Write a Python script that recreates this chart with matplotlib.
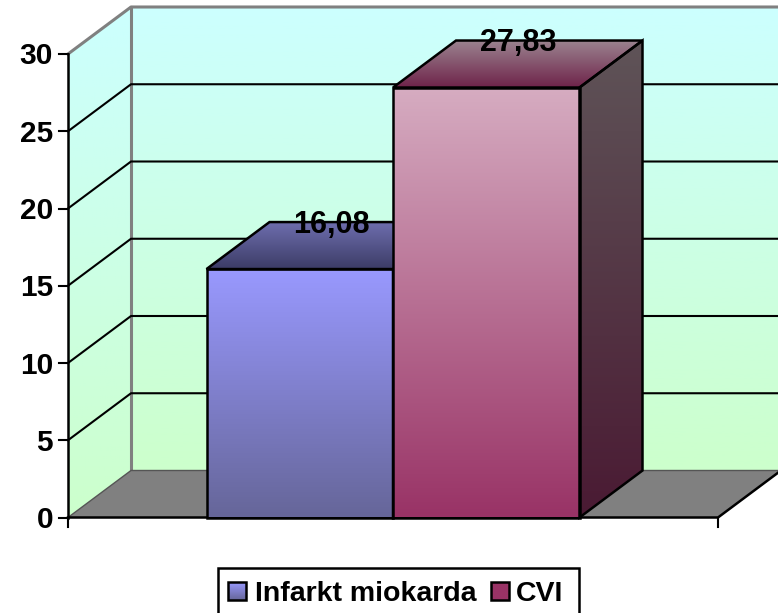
import numpy as np
import matplotlib
matplotlib.use('Agg')
import matplotlib.pyplot as plt
from matplotlib.colors import LinearSegmentedColormap
from matplotlib.patches import Polygon

plt.rcParams['font.family'] = ['Liberation Sans', 'DejaVu Sans']
plt.rcParams['font.weight'] = 'bold'

# data
categories = ['Infarkt miokarda', 'CVI']
values = [16.08, 27.83]
value_labels = ['16,08', '27,83']
y_ticks = [0, 5, 10, 15, 20, 25, 30]

# pixel scale of the picture: 0 at y=517.5, 30 at y=54, category runs 68..718
W, H = 778, 613
x_unit = 650.0
y_unit = (517.5 - 54) / 30
x_min = -68 / x_unit
x_max = (W - 68) / x_unit
y_min = -(H - 517.5) / y_unit
y_max = 517.5 / y_unit

# depth of the 3d box, in axis units
depth_x = 63 / x_unit
depth_y = 47 / y_unit
bar_w = 186.5 / x_unit
bar_left = 0.5 - bar_w

fig = plt.figure(figsize=(W / 100, H / 100), dpi=100)
ax = fig.add_axes([0, 0, 1, 1])
ax.set_xlim(x_min, x_max)
ax.set_ylim(y_min, y_max)
ax.axis('off')


def grad_poly(pts, top, bottom, z, edge='none', lw=0):
    # polygon filled with a vertical gradient
    pts = np.array(pts)
    cmap = LinearSegmentedColormap.from_list('g', [bottom, top])
    grad = np.linspace(0, 1, 256).reshape(-1, 1)
    ext = [pts[:, 0].min(), pts[:, 0].max(), pts[:, 1].min(), pts[:, 1].max()]
    im = ax.imshow(grad, origin='lower', extent=ext, aspect='auto', cmap=cmap, zorder=z)
    clip = Polygon(pts, closed=True, transform=ax.transData, facecolor='none', edgecolor='none')
    ax.add_patch(clip)
    im.set_clip_path(clip)
    if lw:
        ax.add_patch(Polygon(pts, closed=True, facecolor='none', edgecolor=edge, linewidth=lw,
                             joinstyle='miter', zorder=z + 0.1))


wall_top = '#CCFFFF'
wall_bottom = '#CCFFCC'
grey = '#808080'
top_val = y_ticks[-1]

# walls
grad_poly([(depth_x, depth_y), (x_max + 0.1, depth_y), (x_max + 0.1, top_val + depth_y), (depth_x, top_val + depth_y)],
          wall_top, wall_bottom, 1)
grad_poly([(0, 0), (depth_x, depth_y), (depth_x, top_val + depth_y), (0, top_val)], wall_top, wall_bottom, 1)

# floor
ax.add_patch(Polygon([(0, 0), (1, 0), (1 + depth_x, depth_y), (depth_x, depth_y)], closed=True,
                     facecolor=grey, edgecolor='none', zorder=2))
ax.plot([0, depth_x, x_max + 0.1], [0, depth_y, depth_y], color='#555555', lw=1.0, zorder=2.1)

# wall outlines
ax.plot([0, depth_x, x_max + 0.1], [top_val, top_val + depth_y, top_val + depth_y], color=grey, lw=2.2, zorder=2)
ax.plot([depth_x, depth_x], [depth_y, top_val + depth_y], color=grey, lw=2.2, zorder=2)

# grid lines
for t in y_ticks[1:-1]:
    ax.plot([0, depth_x, x_max + 0.1], [t, t + depth_y, t + depth_y], color='black', lw=1.5, zorder=3)

# bars
colors = [
    {'front': ('#9999FF', '#666699'), 'top': ('#6F6FB0', '#3C3C66'), 'side': ('#45456E', '#333350')},
    {'front': ('#D6ACC1', '#993366'), 'top': ('#9B8490', '#6E2249'), 'side': ('#5F5458', '#4A1A33')},
]
for i, v in enumerate(values):
    x0 = bar_left + i * bar_w
    x1 = x0 + bar_w
    c = colors[i]
    z = 4 + i
    grad_poly([(x1, 0), (x1 + depth_x, depth_y), (x1 + depth_x, v + depth_y), (x1, v)], *c['side'], z, 'black', 1.8)
    grad_poly([(x0, v), (x1, v), (x1 + depth_x, v + depth_y), (x0 + depth_x, v + depth_y)], *c['top'], z, 'black', 1.8)
    grad_poly([(x0, 0), (x1, 0), (x1, v), (x0, v)], *c['front'], z, 'black', 1.8)
for i, v in enumerate(values):
    x0 = bar_left + i * bar_w
    ax.text(x0 + bar_w / 2 + depth_x / 2, v + depth_y - 10.5 / y_unit, value_labels[i], ha='center', va='baseline',
            fontsize=22, fontweight='bold', color='black', zorder=8)

# axes
tick_x = 9 / x_unit
tick_y = 9 / y_unit
ax.plot([0, 0], [0, top_val], color='black', lw=1.8, zorder=7)
ax.plot([0, 1, 1 + depth_x], [0, 0, depth_y], color='black', lw=1.8, zorder=3.5)
for t in y_ticks:
    ax.plot([-tick_x, 0], [t, t], color='black', lw=1.5, zorder=7)
    ax.text(-15 / x_unit, t - 10.5 / y_unit, str(t), ha='right', va='baseline', fontsize=21.5, fontweight='bold',
            zorder=8)
for xt in [0, 1]:
    ax.plot([xt, xt], [0, -tick_y], color='black', lw=1.5, zorder=7)


# legend, the box runs off the bottom of the picture
def px(x, y):
    return (x - 68) / x_unit, (517.5 - y) / y_unit


frame = [px(218, 630), px(218, 568), px(579, 568), px(579, 630)]
ax.add_patch(Polygon(frame, closed=True, facecolor='white', edgecolor='black', linewidth=1.8, zorder=9))
swatches = [(228, 255, colors[0]['front']), (490.5, 516, ('#993366', '#993366'))]
sw_w = 18
for (sx, tx, sc), name in zip(swatches, categories):
    a = px(sx, 600)
    b = px(sx + sw_w, 582)
    grad_poly([a, (b[0], a[1]), b, (a[0], b[1])], sc[0], sc[1], 10, 'black', 1.8)
    ax.text(px(tx, 0)[0], px(0, 601)[1], name, ha='left', va='baseline', fontsize=20.5, fontweight='bold', zorder=11)

ax.set_xlim(x_min, x_max)
ax.set_ylim(y_min, y_max)
fig.savefig('out.png', dpi=100)
